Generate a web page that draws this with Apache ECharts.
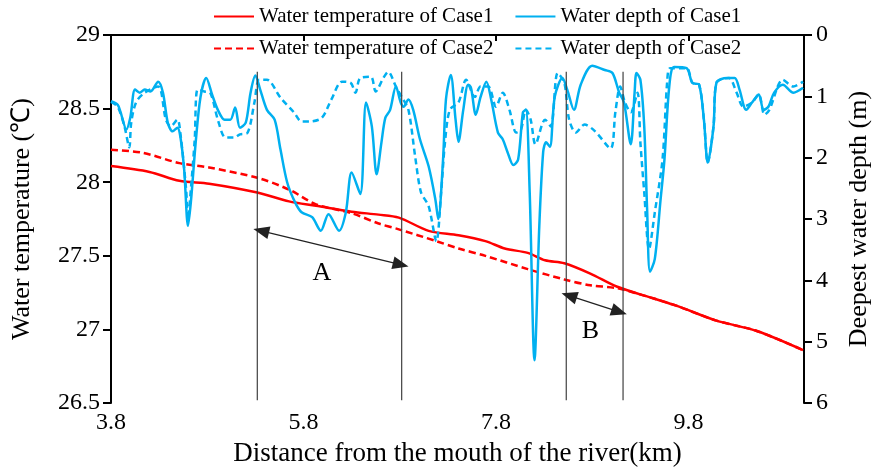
<!DOCTYPE html>
<html>
<head>
<meta charset="utf-8">
<script src="https://cdn.jsdelivr.net/npm/echarts@6.0.0/dist/echarts.min.js"></script>
<style>
html, body { margin: 0; padding: 0; background: #fff; }
#chart { width: 880px; height: 472px; }
</style>
</head>
<body>
<div id="chart"></div>
<script>
// distance (km) / water temperature (℃)
var tempCase1 = [[3.8,28.11],[4.2,28.07],[4.51,28.01],[4.82,27.99],[5.32,27.93],[5.65,27.87],[5.93,27.84],[6.3,27.80],[6.58,27.78],[6.79,27.76],[7.1,27.67],[7.41,27.64],[7.69,27.60],[7.89,27.55],[8.13,27.52],[8.31,27.47],[8.51,27.45],[8.78,27.38],[9.06,27.29],[9.44,27.21],[9.68,27.16],[10.09,27.06],[10.51,26.99],[10.99,26.86]];
var tempCase2 = [[3.8,28.22],[4.13,28.20],[4.51,28.13],[4.82,28.10],[5.32,28.03],[5.65,27.95],[5.93,27.85],[6.3,27.79],[6.58,27.72],[6.79,27.68],[7.18,27.60],[7.41,27.55],[7.69,27.50],[8.13,27.41],[8.51,27.34],[8.78,27.30],[9.06,27.28],[9.44,27.21],[9.68,27.16],[10.09,27.06],[10.51,26.99],[10.99,26.86]];

// distance (km) / deepest water depth (m)
var depthCase1 = [[3.8,1.08],[3.87,1.14],[3.9,1.26],[3.96,1.54],[4.0,1.35],[4.05,0.89],[4.1,0.94],[4.15,0.89],[4.21,0.92],[4.29,0.76],[4.34,0.94],[4.39,1.43],[4.44,1.57],[4.49,1.51],[4.52,1.65],[4.56,2.19],[4.6,3.11],[4.63,2.72],[4.68,1.75],[4.73,1.01],[4.79,0.70],[4.85,0.97],[4.91,1.22],[4.98,1.38],[5.04,1.38],[5.09,1.18],[5.14,1.51],[5.2,1.43],[5.25,0.94],[5.3,0.66],[5.35,0.89],[5.42,1.22],[5.5,1.38],[5.56,1.86],[5.63,2.40],[5.71,2.72],[5.78,2.89],[5.89,2.97],[5.98,3.19],[6.06,2.92],[6.17,3.19],[6.24,2.89],[6.3,2.24],[6.39,2.59],[6.45,1.10],[6.51,1.49],[6.56,2.27],[6.61,1.75],[6.65,1.35],[6.7,1.22],[6.76,0.84],[6.81,1.10],[6.84,1.17],[6.89,1.05],[6.94,1.22],[7.01,1.70],[7.1,2.14],[7.17,2.68],[7.2,3.00],[7.25,2.03],[7.28,1.05],[7.33,0.65],[7.38,1.38],[7.41,1.74],[7.46,1.22],[7.51,0.81],[7.54,0.86],[7.59,1.30],[7.64,1.01],[7.7,0.76],[7.75,1.05],[7.82,1.59],[7.87,1.70],[7.92,1.91],[7.98,2.12],[8.03,2.03],[8.08,1.26],[8.11,1.22],[8.15,2.56],[8.2,5.30],[8.25,3.11],[8.29,1.91],[8.32,1.75],[8.36,1.82],[8.41,1.01],[8.49,0.70],[8.54,0.89],[8.61,1.22],[8.68,0.81],[8.8,0.50],[8.93,0.57],[9.01,0.62],[9.08,0.94],[9.13,1.10],[9.2,1.78],[9.24,0.94],[9.26,0.62],[9.3,0.73],[9.34,1.49],[9.37,2.84],[9.4,3.86],[9.45,3.65],[9.51,2.68],[9.55,2.03],[9.6,0.84],[9.65,0.52],[9.78,0.54],[9.84,0.78],[9.91,0.81],[9.96,1.38],[10.0,2.08],[10.06,1.49],[10.09,0.78],[10.2,0.70],[10.28,0.70],[10.33,0.89],[10.4,1.22],[10.46,1.10],[10.53,0.97],[10.58,1.22],[10.63,1.17],[10.69,0.94],[10.78,0.81],[10.89,0.94],[10.99,0.86]];
var depthCase2 = [[3.8,1.09],[3.87,1.17],[3.94,1.49],[3.99,1.83],[4.01,1.43],[4.06,1.10],[4.15,0.94],[4.29,0.84],[4.37,1.38],[4.42,1.49],[4.49,1.38],[4.52,1.59],[4.58,2.51],[4.6,3.00],[4.63,2.51],[4.67,1.70],[4.7,0.89],[4.77,0.92],[4.83,0.94],[4.91,1.38],[4.99,1.67],[5.08,1.67],[5.14,1.62],[5.22,1.59],[5.29,1.10],[5.34,0.73],[5.42,0.73],[5.56,1.02],[5.7,1.26],[5.78,1.41],[5.86,1.41],[5.99,1.35],[6.09,1.05],[6.2,0.76],[6.29,0.78],[6.34,0.94],[6.39,0.70],[6.5,0.68],[6.55,0.92],[6.63,0.70],[6.68,0.60],[6.76,0.84],[6.82,1.01],[6.89,1.22],[6.96,1.98],[7.02,2.56],[7.1,2.79],[7.18,3.36],[7.23,2.56],[7.27,1.75],[7.32,1.22],[7.41,1.10],[7.49,0.73],[7.58,1.01],[7.64,0.84],[7.72,0.84],[7.8,1.17],[7.87,0.94],[7.94,1.22],[8.01,1.59],[8.06,1.54],[8.11,1.22],[8.16,1.38],[8.21,1.78],[8.31,1.38],[8.37,1.49],[8.44,0.62],[8.51,0.78],[8.56,1.38],[8.63,1.59],[8.72,1.46],[8.83,1.57],[8.99,1.85],[9.04,1.26],[9.09,0.84],[9.14,1.10],[9.2,1.26],[9.27,0.94],[9.3,1.75],[9.34,2.56],[9.39,3.49],[9.45,2.89],[9.53,2.03],[9.58,0.73],[9.61,0.54],[9.78,0.54],[9.84,0.78],[9.91,0.81],[9.96,1.38],[10.0,2.08],[10.06,1.49],[10.09,0.78],[10.22,0.70],[10.3,0.94],[10.37,1.17],[10.46,1.10],[10.53,0.97],[10.59,1.30],[10.64,1.22],[10.78,0.73],[10.89,0.84],[10.99,0.76]];

var xTicks = [3.8, 5.8, 7.8, 9.8];
var sectionLines = [5.32, 6.82, 8.53, 9.12];   // km
var sectionTop = 28.75, sectionBottom = 26.52;  // on temperature axis
var arrowA = [[5.36, 27.67], [6.81, 27.44]];
var arrowB = [[8.56, 27.23], [9.08, 27.12]];
var arrowLabels = [{ name: 'A', coord: [5.99, 27.38] }, { name: 'B', coord: [8.78, 26.99] }];

var FONT = "'Liberation Serif', 'Times New Roman', serif";
var chart = echarts.init(document.getElementById('chart'));

var series = [
    { name: 'Water temperature of Case1', type: 'line', yAxisIndex: 0, data: tempCase1,
      symbol: 'none', smooth: 0.3, lineStyle: { color: '#FF0000', width: 2.5 }, itemStyle: { color: '#FF0000' } },
    { name: 'Water temperature of Case2', type: 'line', yAxisIndex: 0, data: tempCase2,
      symbol: 'none', smooth: 0.3, lineStyle: { color: '#FF0000', width: 2.5, type: [7, 4] }, itemStyle: { color: '#FF0000' } },
    { name: 'Water depth of Case1', type: 'line', yAxisIndex: 1, data: depthCase1,
      symbol: 'none', smooth: 0.3, lineStyle: { color: '#00B0F0', width: 2.5 }, itemStyle: { color: '#00B0F0' } },
    { name: 'Water depth of Case2', type: 'line', yAxisIndex: 1, data: depthCase2,
      symbol: 'none', smooth: 0.3, lineStyle: { color: '#00B0F0', width: 2.5, type: [6, 4] }, itemStyle: { color: '#00B0F0' } }
];

sectionLines.forEach(function (km) {
    series.push({
        type: 'line', yAxisIndex: 0, silent: true, symbol: 'none',
        data: [[km, sectionTop], [km, sectionBottom]],
        lineStyle: { color: '#404040', width: 1.2 }
    });
});

// arrows and their labels
series.push({
    type: 'line', yAxisIndex: 0, data: [], silent: true,
    markLine: {
        silent: true,
        symbol: ['triangle', 'triangle'],
        symbolSize: [13, 16],
        lineStyle: { color: '#222', width: 1.2, type: 'solid' },
        itemStyle: { color: '#000' },
        label: { show: false },
        data: [
            [{ coord: arrowA[0] }, { coord: arrowA[1] }],
            [{ coord: arrowB[0] }, { coord: arrowB[1] }]
        ]
    },
    markPoint: {
        silent: true,
        symbol: 'circle', symbolSize: 0,
        label: { show: true, position: 'inside', formatter: '{b}', color: '#000', fontFamily: FONT, fontSize: 26 },
        data: arrowLabels
    }
});

var legendText = { fontFamily: FONT, fontSize: 21, color: '#000' };
var tickRich = { t: { fontFamily: FONT, fontSize: 24, color: '#000' } };

function tickFmt(v) { return '{t|' + v + '}'; }

var option = {
    backgroundColor: '#fff',
    animation: false,
    textStyle: { fontFamily: FONT, color: '#000' },
    grid: { left: 111, right: 72, top: 35, bottom: 67 },
    legend: [
        { data: ['Water temperature of Case1', 'Water depth of Case1'], left: 213, top: 6,
          padding: 0, itemWidth: 40, itemHeight: 14, itemGap: 21, textStyle: legendText,
          itemStyle: { opacity: 0 } },
        { data: ['Water temperature of Case2', 'Water depth of Case2'], left: 213, top: 38,
          padding: 0, itemWidth: 40, itemHeight: 14, itemGap: 21, textStyle: legendText,
          itemStyle: { opacity: 0 } }
    ],
    xAxis: {
        type: 'value', min: 3.8, max: 11.0,
        name: 'Distance from the mouth of the river(km)',
        nameLocation: 'middle', nameGap: 35,
        nameTextStyle: { fontFamily: FONT, fontSize: 27, color: '#000' },
        axisLine: { lineStyle: { color: '#000', width: 2 } },
        axisTick: { show: true, customValues: xTicks, length: 6, lineStyle: { color: '#000', width: 2 } },
        axisLabel: { customValues: xTicks, formatter: function (v) { return '{t|' + v.toFixed(1) + '}'; },
                     rich: tickRich, margin: 8, fontFamily: FONT, fontSize: 24, color: '#000' },
        splitLine: { show: false }
    },
    yAxis: [
        {
            type: 'value', min: 26.5, max: 29, interval: 0.5, position: 'left',
            name: '{t|Water temperature (℃)}', nameLocation: 'middle', nameGap: 76,
            nameTextStyle: { fontFamily: FONT, fontSize: 26, color: '#000',
                             rich: { t: { fontFamily: FONT, fontSize: 26, color: '#000' } } },
            axisLine: { show: true, lineStyle: { color: '#000', width: 2 } },
            axisTick: { show: true, length: 8, lineStyle: { color: '#000', width: 2 } },
            axisLabel: { margin: 11, formatter: tickFmt, rich: tickRich, fontFamily: FONT, fontSize: 24, color: '#000' },
            splitLine: { show: false }
        },
        {
            type: 'value', min: 0, max: 6, interval: 1, inverse: true, position: 'right',
            name: 'Deepest water depth (m)', nameLocation: 'middle', nameGap: 42,
            nameTextStyle: { fontFamily: FONT, fontSize: 26, color: '#000' },
            axisLine: { show: true, lineStyle: { color: '#000', width: 2 } },
            axisTick: { show: true, length: 8, lineStyle: { color: '#000', width: 2 } },
            axisLabel: { margin: 12, formatter: tickFmt, rich: tickRich, fontFamily: FONT, fontSize: 24, color: '#000' },
            splitLine: { show: false }
        }
    ],
    series: series
};

chart.setOption(option);
</script>
</body>
</html>
